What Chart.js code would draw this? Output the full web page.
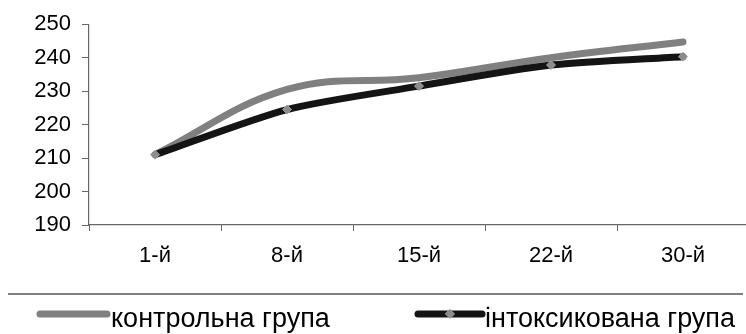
<!DOCTYPE html>
<html>
<head>
<meta charset="utf-8">
<script src="https://cdn.jsdelivr.net/npm/chart.js@4/dist/chart.umd.min.js"></script>
<style>
  html, body { margin: 0; padding: 0; background: #fff; overflow: hidden; }
  #wrap { position: relative; width: 760px; height: 334px; }
</style>
</head>
<body>
<div id="wrap"><canvas id="c" width="760" height="334"></canvas></div>
<script>
// Day of observation
const days = ['1-й', '8-й', '15-й', '22-й', '30-й'];
// Series values
const controlGroup = [211, 230.5, 234, 240, 244.7];
const intoxGroup = [211, 224.5, 231.5, 237.8, 240.3];
// Value axis
const yMin = 190, yMax = 250, yStep = 10;

const FONT = '"Liberation Sans", Arial, sans-serif';

// Legend below the plot, with a rule above it
const bottomLegend = {
  id: 'bottomLegend',
  afterDraw(chart) {
    const ctx = chart.ctx;
    const ds = chart.data.datasets;
    ctx.save();
    ctx.strokeStyle = '#555';
    ctx.lineWidth = 1.5;
    ctx.beginPath();
    ctx.moveTo(8, 294);
    ctx.lineTo(743, 294);
    ctx.stroke();

    const items = [
      { ds: ds[0], x0: 40, x1: 107, tx: 111 },
      { ds: ds[1], x0: 418, x1: 482, tx: 485 }
    ];
    const y = 314;
    items.forEach(it => {
      ctx.strokeStyle = it.ds.borderColor;
      ctx.lineWidth = 7;
      ctx.lineCap = 'round';
      ctx.beginPath();
      ctx.moveTo(it.x0, y);
      ctx.lineTo(it.x1, y);
      ctx.stroke();
      if (it.ds.pointRadius > 0) {
        const cx = (it.x0 + it.x1) / 2, r = it.ds.pointRadius;
        ctx.fillStyle = it.ds.pointBackgroundColor;
        ctx.strokeStyle = it.ds.pointBorderColor;
        ctx.lineWidth = 1;
        ctx.beginPath();
        ctx.moveTo(cx, y - r);
        ctx.lineTo(cx + r, y);
        ctx.lineTo(cx, y + r);
        ctx.lineTo(cx - r, y);
        ctx.closePath();
        ctx.fill();
        ctx.stroke();
      }
      ctx.fillStyle = '#000';
      ctx.font = '27px ' + FONT;
      ctx.textBaseline = 'alphabetic';
      ctx.textAlign = 'left';
      ctx.fillText(it.ds.label, it.tx, 327);
    });
    ctx.restore();
  }
};

new Chart(document.getElementById('c'), {
  type: 'line',
  data: {
    labels: days,
    datasets: [
      {
        label: 'контрольна група',
        data: controlGroup,
        borderColor: '#808080',
        backgroundColor: '#808080',
        borderWidth: 7,
        borderCapStyle: 'round',
        borderJoinStyle: 'round',
        tension: 0.4,
        pointRadius: 0,
        order: 1
      },
      {
        label: 'інтоксикована група',
        data: intoxGroup,
        borderColor: '#141414',
        backgroundColor: '#141414',
        borderWidth: 7,
        borderCapStyle: 'round',
        borderJoinStyle: 'round',
        tension: 0.25,
        pointStyle: 'rectRot',
        pointRadius: 4.5,
        pointBackgroundColor: '#8c8c8c',
        pointBorderColor: '#a0a0a0',
        pointBorderWidth: 1,
        order: 0
      }
    ]
  },
  options: {
    responsive: false,
    animation: false,
    devicePixelRatio: 1,
    layout: { padding: { top: 23, right: 11, bottom: 69, left: 0 } },
    plugins: {
      legend: { display: false },
      tooltip: { enabled: false }
    },
    scales: {
      x: {
        offset: true,
        grid: {
          offset: true,
          drawOnChartArea: false,
          drawTicks: true,
          tickLength: 6,
          color: '#666'
        },
        border: { color: '#666', width: 1.2 },
        ticks: {
          color: '#000',
          font: { family: FONT, size: 22 },
          padding: 12,
          maxRotation: 0
        },
        afterFit(scale) { scale.height = 40; }
      },
      y: {
        min: yMin,
        max: yMax,
        grid: {
          drawOnChartArea: false,
          drawTicks: true,
          tickLength: 7,
          color: '#666'
        },
        border: { color: '#666', width: 1.2 },
        ticks: {
          stepSize: yStep,
          color: '#000',
          font: { family: FONT, size: 22 },
          padding: 11
        },
        afterFit(scale) { scale.width = 89; }
      }
    }
  },
  plugins: [bottomLegend]
});
</script>
</body>
</html>
